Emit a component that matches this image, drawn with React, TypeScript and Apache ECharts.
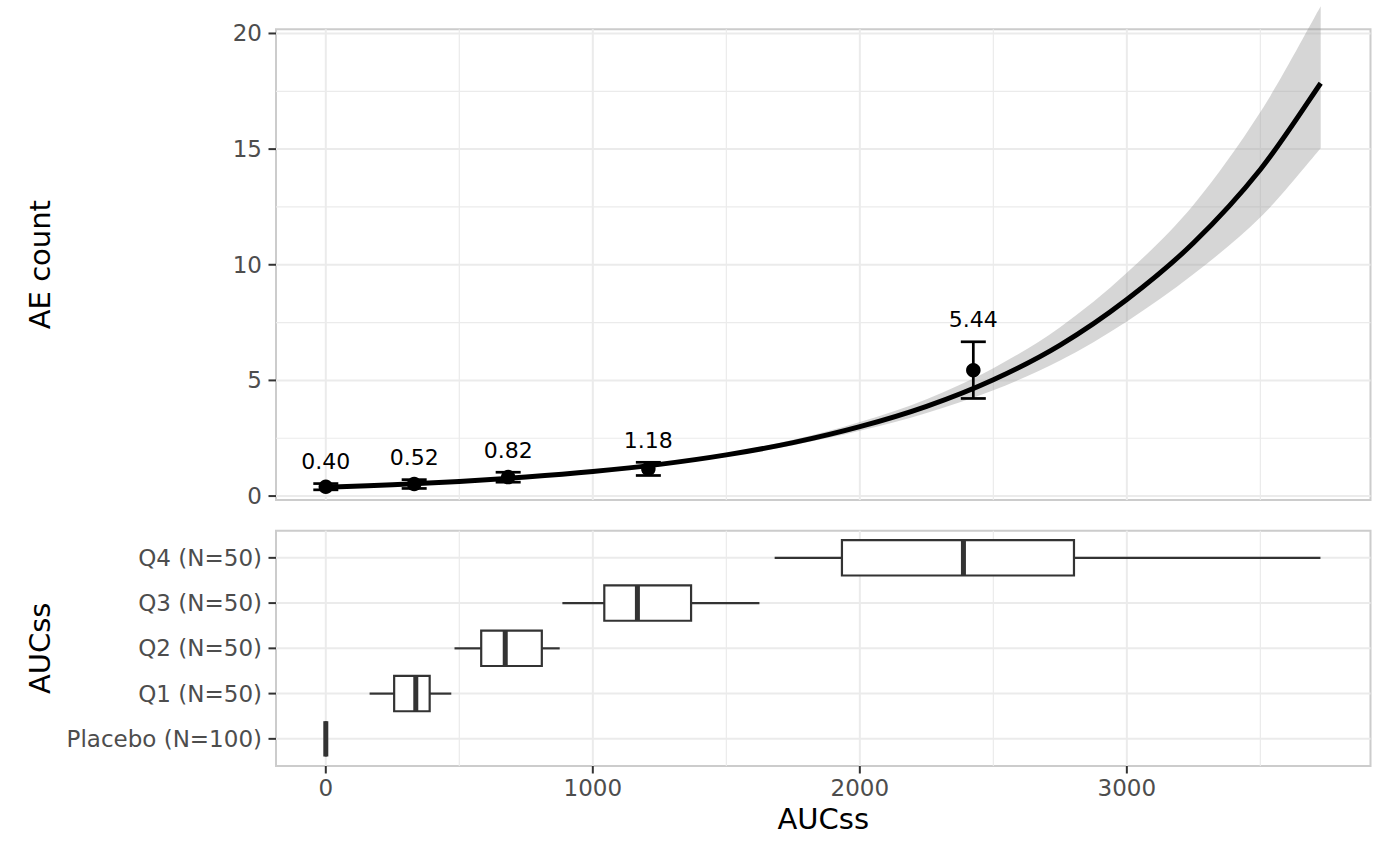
import React, { useEffect, useRef } from "react";
import * as echarts from "echarts";

// ---- fitted curve ----
const FIT_X = [0, 250, 500, 750, 1000, 1250, 1500, 1750, 2000, 2250, 2500, 2750, 3000, 3250, 3500, 3726];
const FIT_Y = [0.38, 0.49, 0.63, 0.82, 1.06, 1.37, 1.78, 2.31, 3.0, 3.88, 5.03, 6.53, 8.5, 10.95, 14.12, 17.85];
const FIT_LO = [0.35, 0.46, 0.6, 0.79, 1.02, 1.32, 1.71, 2.2, 2.82, 3.59, 4.57, 5.86, 7.55, 9.6, 12.05, 15.04];
const FIT_HI = [0.41, 0.52, 0.66, 0.85, 1.1, 1.42, 1.85, 2.43, 3.2, 4.19, 5.53, 7.3, 9.65, 12.6, 16.6, 21.18];

// ---- observed means with error bars ----
const PT_X = [0, 331, 683, 1208, 2425];
const PT_MEAN = [0.4, 0.52, 0.82, 1.18, 5.44];
const PT_LO = [0.27, 0.33, 0.6, 0.89, 4.22];
const PT_HI = [0.54, 0.71, 1.03, 1.46, 6.67];

// ---- boxplots of exposure by group ----
const BOX_CATS = ["Placebo (N=100)", "Q1 (N=50)", "Q2 (N=50)", "Q3 (N=50)", "Q4 (N=50)"];
const BOX_POS = [1, 2, 3, 4, 5];
const WHISK_LO = [0, 164, 482, 886, 1681];
const BOX_Q1 = [0, 256, 582, 1043, 1933];
const BOX_MED = [0, 337, 672, 1167, 2388];
const BOX_Q3 = [0, 389, 809, 1368, 2802];
const WHISK_HI = [0, 470, 876, 1624, 3725];

// ---- ticks / grid ----
const X_MAJOR = [0, 1000, 2000, 3000];
const X_MINOR = [500, 1500, 2500, 3500];
const Y_TOP_MAJOR = [0, 5, 10, 15, 20];
const Y_TOP_MINOR = [2.5, 7.5, 12.5, 17.5];

const FONT = "DejaVu Sans";
const GRID_COLOR = "#EBEBEB";
const TICK_COLOR = "#333333";
const BOX_HALF = 0.39;

function gridLinesSeries(gridIndex: number, vert: number[], horiz: number[], yAny: number, widths: [number, number], minorV: number[], minorH: number[]) {
  const data: number[][] = [];
  vert.forEach((v) => data.push([v, yAny, 0, widths[0]]));
  minorV.forEach((v) => data.push([v, yAny, 0, widths[1]]));
  horiz.forEach((h) => data.push([0, h, 1, widths[0]]));
  minorH.forEach((h) => data.push([0, h, 1, widths[1]]));
  return {
    type: "custom",
    xAxisIndex: gridIndex,
    yAxisIndex: gridIndex,
    silent: true,
    clip: false,
    z: 0,
    encode: { x: 0, y: 1 },
    data,
    renderItem: (params: any, api: any) => {
      const cs = params.coordSys;
      const p = api.coord([api.value(0), api.value(1)]);
      const vertical = api.value(2) === 0;
      const shape = vertical
        ? { x1: p[0], y1: cs.y, x2: p[0], y2: cs.y + cs.height }
        : { x1: cs.x, y1: p[1], x2: cs.x + cs.width, y2: p[1] };
      return { type: "line", shape, style: { stroke: GRID_COLOR, lineWidth: api.value(3) } };
    },
  };
}

function ticksSeries(gridIndex: number, xs: number[], ys: number[], yAny: number) {
  const data: number[][] = [];
  xs.forEach((v) => data.push([v, yAny, 0]));
  ys.forEach((v) => data.push([0, v, 1]));
  return {
    type: "custom",
    xAxisIndex: gridIndex,
    yAxisIndex: gridIndex,
    silent: true,
    clip: false,
    z: 5,
    encode: { x: 0, y: 1 },
    data,
    renderItem: (params: any, api: any) => {
      const cs = params.coordSys;
      const p = api.coord([api.value(0), api.value(1)]);
      const vertical = api.value(2) === 0;
      const shape = vertical
        ? { x1: p[0], y1: cs.y + cs.height, x2: p[0], y2: cs.y + cs.height + 7.5 }
        : { x1: cs.x - 7.5, y1: p[1], x2: cs.x, y2: p[1] };
      return { type: "line", shape, style: { stroke: TICK_COLOR, lineWidth: 2 } };
    },
  };
}

// Catmull-Rom segments through screen points (rendering only)
function crSegments(pts: number[][]): string {
  let d = "";
  for (let i = 0; i < pts.length - 1; i++) {
    const p0 = pts[i - 1] || pts[i];
    const p1 = pts[i];
    const p2 = pts[i + 1];
    const p3 = pts[i + 2] || pts[i + 1];
    const c1x = p1[0] + (p2[0] - p0[0]) / 6;
    const c1y = p1[1] + (p2[1] - p0[1]) / 6;
    const c2x = p2[0] - (p3[0] - p1[0]) / 6;
    const c2y = p2[1] - (p3[1] - p1[1]) / 6;
    d += ` C ${c1x} ${c1y} ${c2x} ${c2y} ${p2[0]} ${p2[1]}`;
  }
  return d;
}

export default function App() {
  const ref = useRef<HTMLDivElement>(null);

  useEffect(() => {
    if (!ref.current) return;
    const chart = echarts.init(ref.current, undefined, { renderer: "svg" });

    const axisLabelBase = { color: "#4D4D4D", fontSize: 23, fontFamily: FONT };
    const nameStyle = { color: "#000000", fontSize: 29, fontFamily: FONT };

    const option: any = {
      animation: false,
      backgroundColor: "#ffffff",
      textStyle: { fontFamily: FONT },
      grid: [
        { left: 276, top: 29.3, width: 1094.5, height: 470.7, show: true, borderColor: "#CCCCCC", borderWidth: 2, backgroundColor: "transparent", containLabel: false },
        { left: 276, top: 530.7, width: 1094.5, height: 235.3, show: true, borderColor: "#CCCCCC", borderWidth: 2, backgroundColor: "transparent", containLabel: false },
      ],
      xAxis: [
        {
          gridIndex: 0, type: "value", min: -186.5, max: 3912.5,
          axisLine: { show: false }, axisTick: { show: false }, axisLabel: { show: false }, splitLine: { show: false },
        },
        {
          gridIndex: 1, type: "value", min: -186.5, max: 3912.5, splitNumber: 4,
          axisLine: { show: false }, axisTick: { show: false }, splitLine: { show: false },
          axisLabel: {
            ...axisLabelBase, margin: 10, showMinLabel: false, showMaxLabel: false,
            formatter: (v: number) => (X_MAJOR.indexOf(v) >= 0 ? String(v) : ""),
          },
          name: "AUCss", nameLocation: "middle", nameGap: 38, nameTextStyle: nameStyle,
        },
      ],
      yAxis: [
        {
          gridIndex: 0, type: "value", min: -0.17, max: 20.18, splitNumber: 4,
          axisLine: { show: false }, axisTick: { show: false }, splitLine: { show: false },
          axisLabel: {
            ...axisLabelBase, margin: 14, showMinLabel: false, showMaxLabel: false,
            formatter: (v: number) => (Y_TOP_MAJOR.indexOf(v) >= 0 ? String(v) : ""),
          },
          name: "AE count", nameLocation: "middle", nameGap: 222, nameRotate: 90, nameTextStyle: nameStyle,
        },
        {
          gridIndex: 1, type: "value", min: 0.4, max: 5.6, splitNumber: 5,
          axisLine: { show: false }, axisTick: { show: false }, splitLine: { show: false },
          axisLabel: {
            ...axisLabelBase, margin: 14, showMinLabel: false, showMaxLabel: false,
            formatter: (v: number) => {
              const idx = BOX_POS.indexOf(v);
              return idx >= 0 ? BOX_CATS[idx] : "";
            },
          },
          name: "AUCss", nameLocation: "middle", nameGap: 222, nameRotate: 90, nameTextStyle: nameStyle,
        },
      ],
      series: [
        gridLinesSeries(0, X_MAJOR, Y_TOP_MAJOR, 0, [2, 1.2], X_MINOR, Y_TOP_MINOR),
        gridLinesSeries(1, X_MAJOR, BOX_POS, 1, [2, 1.2], X_MINOR, []),
        // confidence ribbon
        {
          type: "custom", xAxisIndex: 0, yAxisIndex: 0, silent: true, clip: false, z: 1,
          encode: { x: 0, y: 1 },
          data: [[FIT_X[0], FIT_Y[0]]],
          renderItem: (params: any, api: any) => {
            const up = FIT_X.map((x, i) => api.coord([x, FIT_HI[i]]));
            const lo = FIT_X.map((x, i) => api.coord([x, FIT_LO[i]])).reverse();
            const d =
              `M ${up[0][0]} ${up[0][1]}` + crSegments(up) +
              ` L ${lo[0][0]} ${lo[0][1]}` + crSegments(lo) + " Z";
            return { type: "path", shape: { pathData: d }, style: { fill: "rgba(153,153,153,0.4)" } };
          },
        },
        // fitted curve
        {
          type: "custom", xAxisIndex: 0, yAxisIndex: 0, silent: true, clip: false, z: 3,
          encode: { x: 0, y: 1 },
          data: [[FIT_X[0], FIT_Y[0]]],
          renderItem: (params: any, api: any) => {
            const pts = FIT_X.map((x, i) => api.coord([x, FIT_Y[i]]));
            const d = `M ${pts[0][0]} ${pts[0][1]}` + crSegments(pts);
            return {
              type: "path", shape: { pathData: d },
              style: { fill: "none", stroke: "#000000", lineWidth: 5, lineCap: "butt", lineJoin: "round" },
            };
          },
        },
        // error bars + labels
        {
          type: "custom", xAxisIndex: 0, yAxisIndex: 0, silent: true, clip: false, z: 4,
          encode: { x: 0, y: [1, 2] },
          data: PT_X.map((x, i) => [x, PT_LO[i], PT_HI[i], PT_MEAN[i]]),
          renderItem: (params: any, api: any) => {
            const lo = api.coord([api.value(0), api.value(1)]);
            const hi = api.coord([api.value(0), api.value(2)]);
            const w = 12.5;
            const st = { stroke: "#000000", lineWidth: 2.7 };
            return {
              type: "group",
              children: [
                { type: "line", shape: { x1: lo[0], y1: lo[1], x2: hi[0], y2: hi[1] }, style: st },
                { type: "line", shape: { x1: lo[0] - w, y1: lo[1], x2: lo[0] + w, y2: lo[1] }, style: st },
                { type: "line", shape: { x1: hi[0] - w, y1: hi[1], x2: hi[0] + w, y2: hi[1] }, style: st },
                {
                  type: "text",
                  style: {
                    x: hi[0], y: hi[1] - 22, text: Number(api.value(3)).toFixed(2),
                    fill: "#000000", font: `22px "${FONT}"`, align: "center", verticalAlign: "middle",
                  },
                },
              ],
            };
          },
        },
        // mean points
        {
          type: "scatter", xAxisIndex: 0, yAxisIndex: 0, silent: true, z: 5,
          symbol: "circle", symbolSize: 14.5,
          itemStyle: { color: "#000000", opacity: 1 },
          data: PT_X.map((x, i) => [x, PT_MEAN[i]]),
        },
        // boxplots
        {
          type: "custom", xAxisIndex: 1, yAxisIndex: 1, silent: true, clip: false, z: 4,
          encode: { x: [0, 1, 2, 3, 4], y: 5 },
          data: BOX_POS.map((p, i) => [WHISK_LO[i], BOX_Q1[i], BOX_MED[i], BOX_Q3[i], WHISK_HI[i], p]),
          renderItem: (params: any, api: any) => {
            const yv = api.value(5);
            const cy = api.coord([0, yv])[1];
            const top = api.coord([0, yv + BOX_HALF])[1];
            const bot = api.coord([0, yv - BOX_HALF])[1];
            const xs = [0, 1, 2, 3, 4].map((k) => api.coord([api.value(k), yv])[0]);
            const st = { stroke: "#333333", lineWidth: 2.2 };
            return {
              type: "group",
              children: [
                { type: "line", shape: { x1: xs[0], y1: cy, x2: xs[1], y2: cy }, style: st },
                { type: "line", shape: { x1: xs[3], y1: cy, x2: xs[4], y2: cy }, style: st },
                { type: "rect", shape: { x: xs[1], y: top, width: xs[3] - xs[1], height: bot - top }, style: { ...st, fill: "#ffffff" } },
                { type: "line", shape: { x1: xs[2], y1: top, x2: xs[2], y2: bot }, style: { stroke: "#333333", lineWidth: 5 } },
              ],
            };
          },
        },
        ticksSeries(0, [], Y_TOP_MAJOR, 0),
        ticksSeries(1, X_MAJOR, BOX_POS, 1),
      ],
    };

    chart.setOption(option);
    return () => chart.dispose();
  }, []);

  return <div ref={ref} style={{ position: "fixed", left: 0, top: 0, width: 1400, height: 865 }} />;
}
